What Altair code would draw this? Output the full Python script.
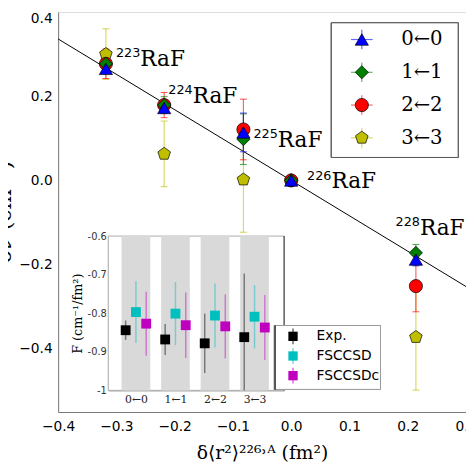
import json
import altair as alt
import pandas as pd

# ---------------- main panel data ----------------
isotopes = ['223', '224', '225', '226', '228']
dr2 = [-0.318, -0.218, -0.082, 0.0, 0.214]
transitions = ['0←0', '1←1', '2←2', '3←3']
shift = {
    '0←0': [0.265, 0.172, 0.114, 0.0, -0.188],
    '1←1': [0.277, 0.179, 0.098, 0.0, -0.172],
    '2←2': [0.277, 0.179, 0.121, 0.0, -0.251],
    '3←3': [0.300, 0.063, 0.002, 0.0, -0.372],
}
shift_err = {
    '0←0': [0.010, 0.010, 0.046, 0.005, 0.015],
    '1←1': [0.015, 0.020, 0.060, 0.005, 0.020],
    '2←2': [0.035, 0.030, 0.072, 0.006, 0.061],
    '3←3': [0.060, 0.078, 0.125, 0.005, 0.126],
}
fit_x = [-0.4, 0.3]
fit_y = [0.336, -0.252]
label_x = [-0.259, -0.169, -0.023, 0.069, 0.221]
label_y = [0.272, 0.184, 0.079, -0.019, -0.130]

# ---------------- inset data ----------------
methods = ['Exp.', 'FSCCSD', 'FSCCSDc']
F_val = {
    'Exp.':    [-0.844, -0.868, -0.878, -0.862],
    'FSCCSD':  [-0.797, -0.801, -0.806, -0.809],
    'FSCCSDc': [-0.827, -0.831, -0.834, -0.837],
}
F_err = {
    'Exp.':    [0.025, 0.040, 0.077, 0.165],
    'FSCCSD':  [0.080, 0.082, 0.083, 0.082],
    'FSCCSDc': [0.083, 0.085, 0.083, 0.084],
}

main_colors = ['#0000ff', '#008000', '#ff0000', '#bfbf00']
PENT = "M0,-1L0.951,-0.309L0.588,0.809L-0.588,0.809L-0.951,-0.309Z"
main_shapes = ['triangle-up', 'diamond', 'circle', PENT]
inset_colors = ['#000000', '#00bfbf', '#bf00bf']

rows = []
for t in reversed(transitions):
    for k, iso in enumerate(isotopes):
        v, e = shift[t][k], shift_err[t][k]
        rows.append(dict(trans=t, iso=iso, x=dr2[k], y=v, lo=v - e, hi=v + e))
df_main = pd.DataFrame(rows)
df_fit = pd.DataFrame({'x': fit_x, 'y': fit_y})
df_lab = pd.DataFrame({'x': label_x, 'y': label_y, 'mass': isotopes, 'name': ['RaF'] * 5})

rows = []
for m in methods:
    for i, t in enumerate(transitions):
        v, e = F_val[m][i], F_err[m][i]
        rows.append(dict(method=m, i=i, F=v, lo=v - e, hi=v + e))
df_in = pd.DataFrame(rows)
inset_x_domain = [-0.7, 3.75]
inset_y_domain = [-1.0, -0.6]
df_band = pd.DataFrame({'i': list(range(len(transitions))), 'y1': -1.0, 'y2': -0.6})
df_frame = pd.DataFrame({'x1': [inset_x_domain[0]], 'x2': [inset_x_domain[1]],
                         'y1': [inset_y_domain[0]], 'y2': [inset_y_domain[1]]})
df_leg = pd.DataFrame({'trans': transitions, 'k': list(range(len(transitions)))})
df_ileg = pd.DataFrame({'method': methods, 'k': list(range(len(methods)))})

W, H = 415, 407

# ---------------- scales & axes ----------------
xs = alt.Scale(domain=[-0.4, 0.3], nice=False, zero=False)
ys = alt.Scale(domain=[-0.55, 0.4], nice=False, zero=False)
xax = alt.Axis(values=[-0.4, -0.3, -0.2, -0.1, 0.0, 0.1, 0.2, 0.3], format='.1f', ticks=False,
               labelPadding=8, labelFont='DejaVu Sans', labelFontSize=14, labelColor='black',
               labelFlush=False, labelOverlap=False, domainColor='#777', grid=False,
               title='δ⟨r²⟩²²⁶˒ᴬ (fm²)', titleFont='DejaVu Serif', titleFontSize=19,
               titleFontWeight='normal', titleBaseline='alphabetic', titleY=47, titleColor='black')
yax = alt.Axis(values=[-0.4, -0.2, 0.0, 0.2, 0.4], format='.1f', ticks=False, labelPadding=6,
               labelFlush=True, labelFont='DejaVu Sans', labelFontSize=14, labelColor='black',
               domainColor='#777', grid=False,
               title='δν (cm⁻¹)', titleFont='DejaVu Serif', titleFontSize=22, titleFontWeight='normal',
               titleAngle=270, titleBaseline='alphabetic', titleAlign='center', titleX=-48, titleY=203,
               titleColor='black')

ixs = alt.Scale(domain=inset_x_domain, range=[51, 230], nice=False, zero=False)
iys = alt.Scale(domain=inset_y_domain, range=[385, 228], nice=False, zero=False, clamp=True)
ixax = alt.Axis(orient='bottom', offset=-22, values=[0, 1, 2, 3],
                labelExpr=json.dumps(transitions) + "[datum.value]", ticks=False,
                labelFont='DejaVu Serif', labelFontSize=11, labelColor='#222', labelPadding=3,
                labelFlush=False, domainColor='#888', grid=False, title=None)
iyax = alt.Axis(orient='left', offset=-51, values=[-1, -0.9, -0.8, -0.7, -0.6], format='.1~f',
                labelExpr="replace(datum.label, '−', '-')", ticks=False, labelFontSize=10,
                labelFont='DejaVu Sans', labelColor='#333', labelPadding=2, domainColor='#888',
                grid=False, title='F (cm⁻¹/fm²)', titleFont='DejaVu Serif', titleFontSize=13,
                titleFontWeight='normal', titlePadding=3, titleColor='black')

cs_main = alt.Scale(domain=transitions, range=main_colors)
ss_main = alt.Scale(domain=transitions, range=main_shapes)
cs_in = alt.Scale(domain=methods, range=inset_colors)

# ---------------- main layers ----------------
fit = alt.Chart(df_fit).mark_line(color='black', strokeWidth=1).encode(
    x=alt.X('x:Q', scale=xs, axis=xax), y=alt.Y('y:Q', scale=ys, axis=yax))

err = alt.Chart(df_main).mark_rule(strokeWidth=1.2, opacity=0.6).encode(
    x=alt.X('x:Q', scale=xs, axis=xax), y=alt.Y('lo:Q', scale=ys, axis=yax), y2='hi:Q',
    color=alt.Color('trans:N', scale=cs_main, legend=None))

caps = alt.Chart(df_main).transform_fold(['lo', 'hi'], as_=['end', 'val']).mark_tick(
    orient='horizontal', size=7, thickness=1, opacity=0.7).encode(
    x=alt.X('x:Q', scale=xs, axis=xax), y=alt.Y('val:Q', scale=ys, axis=yax),
    color=alt.Color('trans:N', scale=cs_main, legend=None))

pts = alt.Chart(df_main).mark_point(filled=True, stroke='black', strokeWidth=0.7, opacity=1,
                                    size=180).encode(
    x=alt.X('x:Q', scale=xs, axis=xax), y=alt.Y('y:Q', scale=ys, axis=yax),
    color=alt.Color('trans:N', scale=cs_main, legend=None),
    shape=alt.Shape('trans:N', scale=ss_main, legend=None))

sup = alt.Chart(df_lab).mark_text(align='right', baseline='alphabetic', dy=-9, font='DejaVu Sans',
                                  fontSize=13, color='black').encode(
    x=alt.X('x:Q', scale=xs, axis=xax), y=alt.Y('y:Q', scale=ys, axis=yax), text='mass:N')
name = alt.Chart(df_lab).mark_text(align='left', baseline='alphabetic', font='DejaVu Serif',
                                   fontSize=22, color='black').encode(
    x=alt.X('x:Q', scale=xs, axis=xax), y=alt.Y('y:Q', scale=ys, axis=yax), text='name:N')

main = alt.layer(fit, err, caps, pts, sup, name)

# ---------------- inset layers ----------------
frame = alt.Chart(df_frame).mark_rect(fill='white', stroke='#aaa', strokeWidth=1).encode(
    x=alt.X('x1:Q', scale=ixs, axis=ixax), x2='x2:Q',
    y=alt.Y('y1:Q', scale=iys, axis=iyax), y2='y2:Q')
bands = alt.Chart(df_band).transform_calculate(
    bx1='datum.i - 0.3625', bx2='datum.i + 0.3625').mark_rect(fill='#d9d9d9').encode(
    x=alt.X('bx1:Q', scale=ixs, axis=ixax), x2='bx2:Q',
    y=alt.Y('y1:Q', scale=iys, axis=iyax), y2='y2:Q')
dodge = "datum.i + (datum.method == 'Exp.' ? -0.26 : (datum.method == 'FSCCSD' ? 0 : 0.26))"
ierr = alt.Chart(df_in).transform_calculate(xp=dodge).mark_rule(strokeWidth=1.5, opacity=0.45).encode(
    x=alt.X('xp:Q', scale=ixs, axis=ixax),
    y=alt.Y('lo:Q', scale=iys, axis=iyax), y2='hi:Q',
    color=alt.Color('method:N', scale=cs_in, legend=None))
ipts = alt.Chart(df_in).transform_calculate(xp=dodge).mark_point(
    shape='square', filled=True, size=100, opacity=1).encode(
    x=alt.X('xp:Q', scale=ixs, axis=ixax),
    y=alt.Y('F:Q', scale=iys, axis=iyax),
    color=alt.Color('method:N', scale=cs_in, legend=None))
rframe = alt.Chart(df_frame).mark_rule(color='#666', strokeWidth=1.5).encode(
    x=alt.X('x2:Q', scale=ixs, axis=ixax),
    y=alt.Y('y1:Q', scale=iys, axis=iyax), y2='y2:Q')

inset = alt.layer(frame, bands, ierr, ipts, rframe)

# ---------------- main legend (drawn) ----------------
lys = alt.Scale(domain=[0, len(transitions) - 1], range=[28, 128], nice=False, zero=False)
ly = alt.Y('k:Q', scale=lys, axis=None)
lc = alt.Color('trans:N', scale=cs_main, legend=None)
lbox = alt.Chart(df_leg).mark_rect(fill='white', stroke='#555', strokeWidth=1).encode(
    x=alt.value(278), x2=alt.value(407), y=alt.value(11), y2=alt.value(148))
lh = alt.Chart(df_leg).mark_rule(strokeWidth=1.2, opacity=0.6).encode(
    x=alt.value(298), x2=alt.value(320), y=ly, color=lc)
lv = alt.Chart(df_leg).mark_rule(strokeWidth=1.2, opacity=0.6, yOffset=-10, y2Offset=10).encode(
    x=alt.value(309), y=ly, y2='k:Q', color=lc)
lsym = alt.Chart(df_leg).mark_point(filled=True, stroke='black', strokeWidth=0.7, opacity=1,
                                    size=180).encode(
    x=alt.value(309), y=ly, color=lc,
    shape=alt.Shape('trans:N', scale=ss_main, legend=None))
ltxt = alt.Chart(df_leg).mark_text(align='left', baseline='middle', font='DejaVu Serif',
                                   fontSize=20, color='black').encode(
    x=alt.value(349), y=ly, text='trans:N')
main_leg = alt.layer(lbox, lh, lv, lsym, ltxt)

# ---------------- inset legend (drawn) ----------------
iyl = alt.Scale(domain=[0, len(methods) - 1], range=[330, 370], nice=False, zero=False)
iy = alt.Y('k:Q', scale=iyl, axis=None)
ic = alt.Color('method:N', scale=cs_in, legend=None)
ibox = alt.Chart(df_ileg).mark_rect(fill='white', stroke='#999', strokeWidth=1).encode(
    x=alt.value(220), x2=alt.value(328), y=alt.value(319), y2=alt.value(384))
ibar = alt.Chart(df_ileg).mark_rect(fill='#555').encode(
    x=alt.value(220), x2=alt.value(221.5), y=alt.value(319), y2=alt.value(384))
iv = alt.Chart(df_ileg).mark_rule(strokeWidth=1.5, opacity=0.6, yOffset=-8, y2Offset=8).encode(
    x=alt.value(239), y=iy, y2='k:Q', color=ic)
isym = alt.Chart(df_ileg).mark_point(shape='square', filled=True, size=90, opacity=1).encode(
    x=alt.value(239), y=iy, color=ic)
itxt = alt.Chart(df_ileg).mark_text(align='left', baseline='middle', font='DejaVu Sans',
                                    fontSize=14, color='black').encode(
    x=alt.value(263), y=iy, text='method:N')
inset_leg = alt.layer(ibox, ibar, iv, isym, itxt)

chart = alt.layer(main, inset, main_leg, inset_leg).resolve_scale(
    x='independent', y='independent', color='independent', shape='independent'
).properties(
    width=W, height=H,
    autosize=alt.AutoSizeParams(type='none'),
    padding={'left': 51, 'top': 0, 'right': 0, 'bottom': 59},
).configure_view(stroke='#888', strokeWidth=1).configure(background='white')

chart.save("out.html", embed_options={"renderer": "svg", "actions": False})
